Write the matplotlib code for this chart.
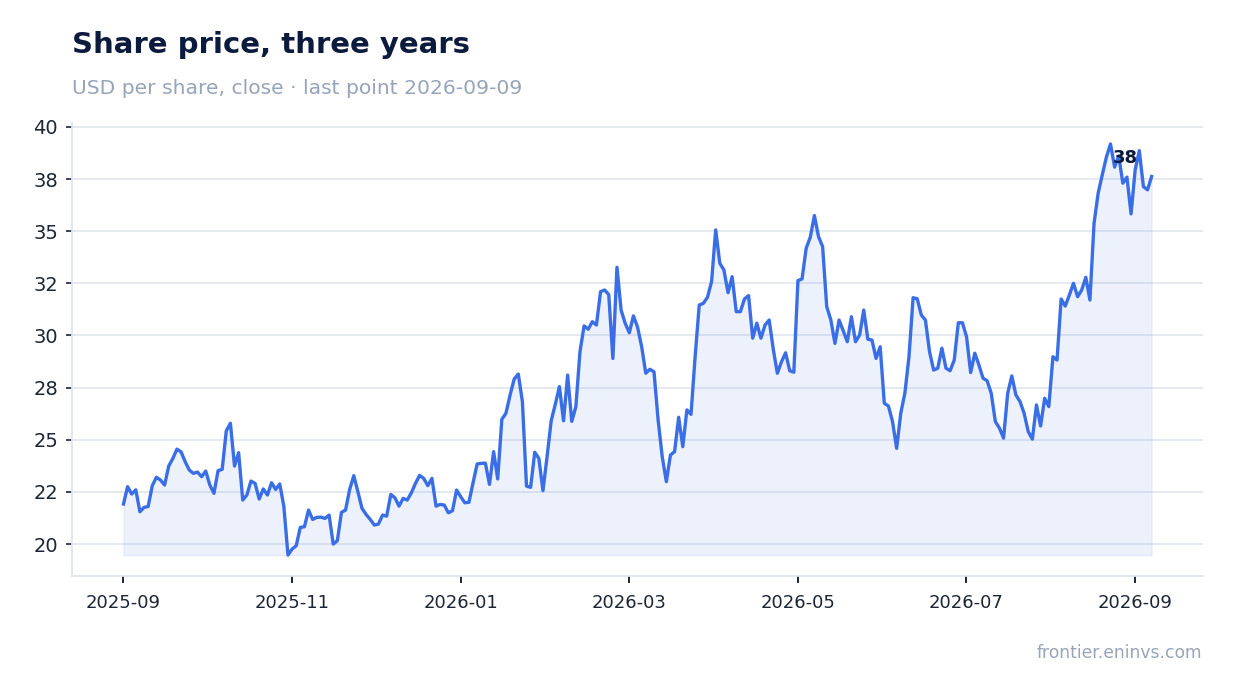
import numpy as np
import pandas as pd
import matplotlib
matplotlib.use("Agg")
import matplotlib.pyplot as plt
from matplotlib.ticker import MultipleLocator, StrMethodFormatter

# Данные: цена закрытия (USD), торговые дни
start_date = "2025-09-01"
end_date = "2026-09-07"
price = [
    21.92, 22.75, 22.40, 22.60, 21.55, 21.76, 21.80, 22.80, 23.20, 23.07,
    22.83, 23.74, 24.10, 24.55, 24.42, 23.95, 23.55, 23.39, 23.45, 23.23,
    23.50, 22.83, 22.43, 23.52, 23.58, 25.43, 25.79, 23.74, 24.38, 22.11,
    22.35, 23.02, 22.91, 22.16, 22.64, 22.35, 22.94, 22.62, 22.88, 21.80,
    19.47, 19.76, 19.92,
    20.80, 20.83, 21.63, 21.18, 21.28, 21.29, 21.23, 21.39, 20.00, 20.16,
    21.52, 21.63, 22.62, 23.28, 22.51, 21.71, 21.42, 21.18, 20.91, 20.96,
    21.39, 21.34, 22.38, 22.22, 21.82, 22.19, 22.11, 22.46, 22.91, 23.29,
    23.15, 22.80, 23.15, 21.82, 21.90, 21.87, 21.50, 21.60, 22.59, 22.27,
    21.98, 22.00, 22.94, 23.84,
    23.87, 23.88, 22.86, 24.43, 23.12, 25.98, 26.27, 27.14, 27.91, 28.15,
    26.83, 22.78, 22.72, 24.40, 24.11, 22.56, 24.19, 25.91, 26.70, 27.55,
    25.91, 28.10, 25.88, 26.58, 29.22, 30.46, 30.30, 30.66, 30.50, 32.10,
    32.18, 31.96, 28.90, 33.27, 31.22, 30.58, 30.13, 30.94, 30.40,
    29.46, 28.19, 28.38, 28.26, 25.95, 24.19, 22.99, 24.27, 24.43, 26.08,
    24.67, 26.43, 26.22, 28.98, 31.46, 31.54, 31.83, 32.58, 35.06, 33.46,
    33.14, 32.05, 32.82, 31.14, 31.14, 31.75, 31.91, 29.87, 30.59, 29.87,
    30.50, 30.74, 29.34, 28.19, 28.74, 29.17, 28.31, 28.24, 32.63, 32.71,
    34.18, 34.71, 35.75, 34.74, 34.26, 31.38, 30.74, 29.62, 30.74, 30.23,
    29.70, 30.90, 29.70, 30.02, 31.22, 29.82, 29.78, 28.90, 29.46, 26.75,
    26.62, 25.87, 24.59, 26.27, 27.23, 28.98, 31.81, 31.76, 30.98, 30.74,
    29.22, 28.34, 28.43, 29.39, 28.43, 28.31, 28.82, 30.61, 30.61, 29.94,
    28.22, 29.15, 28.59, 27.95, 27.83, 27.23, 25.87, 25.56, 25.08, 27.23,
    28.06, 27.15, 26.83, 26.27, 25.39, 25.03, 26.67, 25.66, 26.99, 26.59,
    28.98, 28.82, 31.75, 31.41, 31.94, 32.50, 31.86, 32.18, 32.79, 31.70,
    35.38, 36.82, 37.70, 38.55, 39.18, 38.07, 38.61, 37.30, 37.59, 35.83,
    37.94, 38.86, 37.14, 36.98, 37.62,
]
# подписи оси X (равномерный шаг от 2025-09-01 до 2026-09-01)
tick_start = "2025-09-01"
tick_end = "2026-09-01"
tick_labels = ["2025-09", "2025-11", "2026-01", "2026-03", "2026-05", "2026-07", "2026-09"]

title = "Share price, three years"
subtitle = "USD per share, close · last point 2026-09-09"
source = "frontier.eninvs.com"

dates = pd.date_range(start_date, end_date, periods=len(price))
price = np.array(price)
tick_pos = pd.date_range(tick_start, tick_end, periods=len(tick_labels))

line_color = "#3a6ee6"
dark = "#1c2535"

fig = plt.figure(figsize=(12.34, 6.93), dpi=100)
ax = fig.add_axes([0.0584, 0.1693, 0.9165, 0.6526])

ax.fill_between(dates, price, price.min(), color=line_color, alpha=0.09, linewidth=1)
ax.plot(dates, price, color=line_color, linewidth=2.4, solid_joinstyle="round")

# подпись последнего значения
ax.annotate(f"{price[-1]:.0f}", (dates[-1], price[-1]), xytext=(-10, 13),
            textcoords="offset points", ha="right", va="center",
            fontsize=13, fontweight="bold", color="#0c1a3e")

ax.yaxis.set_major_locator(MultipleLocator(2.5))
ax.yaxis.set_major_formatter(StrMethodFormatter("{x:.0f}"))
ax.set_xticks(tick_pos)
ax.set_xticklabels(tick_labels)

ax.grid(axis="y", color="#e3e7ef", linewidth=1.3)
ax.set_axisbelow(True)
for s in ["top", "right"]:
    ax.spines[s].set_visible(False)
for s in ["left", "bottom"]:
    ax.spines[s].set_color("#dfe4ee")
    ax.spines[s].set_linewidth(1.3)

ax.tick_params(axis="y", labelsize=14, colors=dark, length=4, width=1.2, pad=6)
ax.tick_params(axis="x", labelsize=13, colors=dark, length=5, width=1.4, pad=8)

fig.text(0.0584, 0.9235, title, fontsize=21, fontweight="bold", color="#0c1a3e", va="baseline")
fig.text(0.0584, 0.864, subtitle, fontsize=14.6, color="#98a4b8", va="baseline")
fig.text(0.9743, 0.051, source, fontsize=12.3, color="#98a4b8", ha="right", va="baseline")

fig.savefig("out.png", dpi=100)
